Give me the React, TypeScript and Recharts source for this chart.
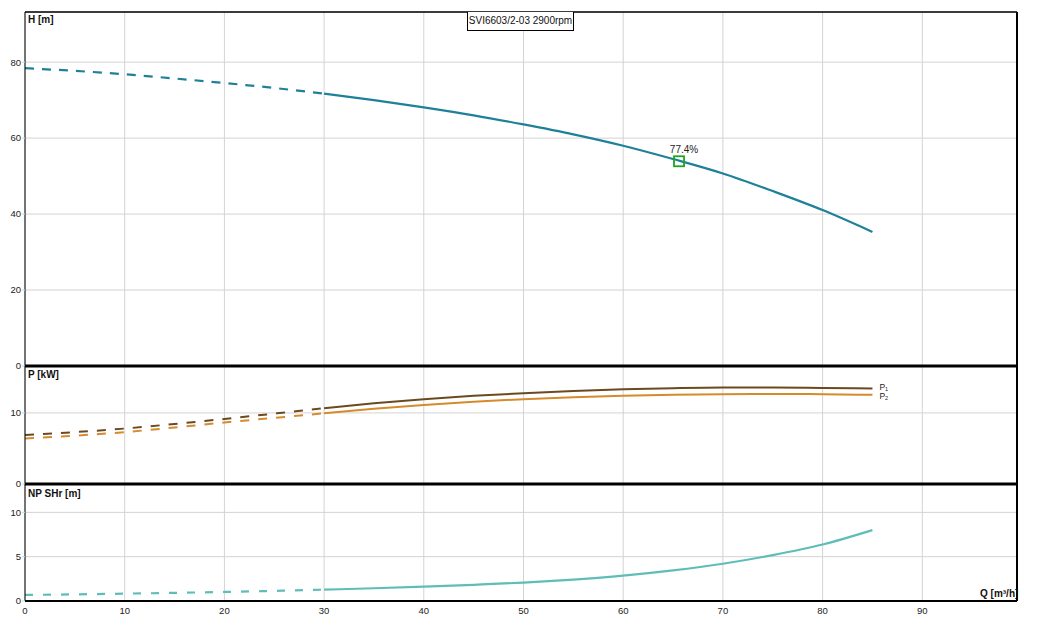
import React from 'react';
import { ComposedChart, Line, XAxis, YAxis, CartesianGrid, ReferenceDot } from 'recharts';

// Flow axis
const qTicks = [0, 10, 20, 30, 40, 50, 60, 70, 80, 90];
const qDomain = [0, 99.5];

// Head H [m]
const headDashed = [
  { q: 0, v: 78.4 }, { q: 5, v: 77.7 }, { q: 10, v: 76.8 }, { q: 15, v: 75.7 },
  { q: 20, v: 74.5 }, { q: 25, v: 73.2 }, { q: 30, v: 71.7 },
];
const headSolid = [
  { q: 30, v: 71.7 }, { q: 35, v: 70.0 }, { q: 40, v: 68.1 }, { q: 45, v: 66.0 },
  { q: 50, v: 63.6 }, { q: 55, v: 61.0 }, { q: 60, v: 58.0 }, { q: 65, v: 54.5 },
  { q: 70, v: 50.7 }, { q: 75, v: 46.05 }, { q: 80, v: 41.05 }, { q: 85, v: 35.3 },
];
const hTicks = [0, 20, 40, 60, 80];
const hDomain = [0, 93.2];
const bep = { q: 65.6, h: 53.9, label: '77.4%' };

// Power P [kW]
const p1Dashed = [
  { q: 0, v: 6.9 }, { q: 5, v: 7.3 }, { q: 10, v: 7.8 }, { q: 15, v: 8.45 },
  { q: 20, v: 9.15 }, { q: 25, v: 9.9 }, { q: 30, v: 10.66 },
];
const p1Solid = [
  { q: 30, v: 10.66 }, { q: 35, v: 11.35 }, { q: 40, v: 11.93 }, { q: 45, v: 12.4 },
  { q: 50, v: 12.77 }, { q: 55, v: 13.1 }, { q: 60, v: 13.34 }, { q: 65, v: 13.48 },
  { q: 70, v: 13.57 }, { q: 75, v: 13.58 }, { q: 80, v: 13.52 }, { q: 85, v: 13.43 },
];
const p2Dashed = [
  { q: 0, v: 6.4 }, { q: 5, v: 6.8 }, { q: 10, v: 7.3 }, { q: 15, v: 7.95 },
  { q: 20, v: 8.65 }, { q: 25, v: 9.3 }, { q: 30, v: 9.95 },
];
const p2Solid = [
  { q: 30, v: 9.95 }, { q: 35, v: 10.6 }, { q: 40, v: 11.13 }, { q: 45, v: 11.58 },
  { q: 50, v: 11.93 }, { q: 55, v: 12.2 }, { q: 60, v: 12.4 }, { q: 65, v: 12.54 },
  { q: 70, v: 12.63 }, { q: 75, v: 12.66 }, { q: 80, v: 12.63 }, { q: 85, v: 12.54 },
];
const pTicks = [0, 10];
const pDomain = [0, 16.6];

// NPSHr [m]
const npshDashed = [
  { q: 0, v: 0.68 }, { q: 5, v: 0.75 }, { q: 10, v: 0.83 }, { q: 15, v: 0.92 },
  { q: 20, v: 1.02 }, { q: 25, v: 1.14 }, { q: 30, v: 1.28 },
];
const npshSolid = [
  { q: 30, v: 1.28 }, { q: 35, v: 1.44 }, { q: 40, v: 1.62 }, { q: 45, v: 1.83 },
  { q: 50, v: 2.08 }, { q: 55, v: 2.42 }, { q: 60, v: 2.86 }, { q: 65, v: 3.45 },
  { q: 70, v: 4.2 }, { q: 75, v: 5.18 }, { q: 80, v: 6.38 }, { q: 85, v: 8.0 },
];
const nTicks = [0, 5, 10];
const nDomain = [0, 13.2];

const W = 1039;
const H = 630;
const FONT = '"Liberation Sans", Arial, sans-serif';
const GRID = '#d3d3d3';
const TICK = { fontSize: 9.5, fill: '#222', fontFamily: FONT };

const C_H = '#1f8099';
const C_P1 = '#6b4a20';
const C_P2 = '#d68a2c';
const C_N = '#5fbdb8';

const layer: React.CSSProperties = { position: 'absolute', left: 0, top: 0 };

function endLabel(sub: string, last: number, dyText: number) {
  return (props: any) => {
    const { x, y, index } = props;
    if (index !== last) return null;
    return (
      <text x={x + 7} y={y + dyText} fontSize={8.5} fill="#222" fontFamily={FONT}>
        P<tspan fontSize={5.5} dy={1.5}>{sub}</tspan>
      </text>
    );
  };
}

function yAxis(ticks: number[], domain: number[]) {
  return (
    <YAxis
      type="number"
      domain={domain}
      ticks={ticks}
      interval={0}
      allowDataOverflow
      width={25}
      tick={TICK}
      tickSize={3}
      tickMargin={1}
      tickLine={{ stroke: GRID }}
      axisLine={{ stroke: '#000', strokeWidth: 1 }}
    />
  );
}

// right-hand frame edge (1px wide axis; margin right compensates)
function rightEdge(domain: number[]) {
  return (
    <YAxis yAxisId="edge" orientation="right" type="number" domain={domain} allowDataOverflow
      width={1} tick={false} tickLine={false} axisLine={{ stroke: '#000', strokeWidth: 2 }} />
  );
}

// top frame edge / panel separator (1px tall axis; margin top compensates)
function topEdge(width: number) {
  return (
    <XAxis xAxisId="edge" orientation="top" type="number" domain={qDomain} allowDataOverflow
      height={1} tick={false} tickLine={false} axisLine={{ stroke: '#000', strokeWidth: width }} />
  );
}

function xAxisHidden() {
  return <XAxis type="number" dataKey="q" domain={qDomain} ticks={qTicks} allowDataOverflow hide />;
}

export default function App() {
  return (
    <div style={{ position: 'absolute', left: 0, top: 0, width: W, height: H, background: '#fff', fontFamily: FONT }}>
      {/* H panel */}
      <div style={layer}>
        <ComposedChart width={W} height={H} margin={{ top: 11, right: 21, bottom: 264, left: 0 }}>
          <CartesianGrid stroke={GRID} strokeWidth={1} />
          {xAxisHidden()}
          {topEdge(1.5)}
          {yAxis(hTicks, hDomain)}
          {rightEdge(hDomain)}
          <Line data={headDashed} dataKey="v" type="monotone" stroke={C_H} strokeWidth={2.2} strokeDasharray="9 8" dot={false} isAnimationActive={false} />
          <Line data={headSolid} dataKey="v" type="monotone" stroke={C_H} strokeWidth={2.2} dot={false} isAnimationActive={false} />
          <ReferenceDot
            x={bep.q}
            y={bep.h}
            shape={(p: any) => (
              <g>
                <rect x={p.cx - 5} y={p.cy - 5} width={10} height={10} fill="none" stroke="#1ea51e" strokeWidth={1.8} />
                <text x={p.cx + 5} y={p.cy - 8.5} textAnchor="middle" fontSize={10} fill="#222" fontFamily={FONT}>{bep.label}</text>
              </g>
            )}
          />
        </ComposedChart>
      </div>
      {/* P panel */}
      <div style={layer}>
        <ComposedChart width={W} height={H} margin={{ top: 365, right: 21, bottom: 146, left: 0 }}>
          <CartesianGrid stroke={GRID} strokeWidth={1} />
          {xAxisHidden()}
          {yAxis(pTicks, pDomain)}
          {rightEdge(pDomain)}
          <Line data={p1Dashed} dataKey="v" type="monotone" stroke={C_P1} strokeWidth={2} strokeDasharray="9 9" dot={false} isAnimationActive={false} />
          <Line data={p2Dashed} dataKey="v" type="monotone" stroke={C_P2} strokeWidth={2} strokeDasharray="9 9" dot={false} isAnimationActive={false} />
          <Line data={p1Solid} dataKey="v" type="monotone" stroke={C_P1} strokeWidth={2} dot={false} isAnimationActive={false}
            label={endLabel('1', p1Solid.length - 1, 1)} />
          <Line data={p2Solid} dataKey="v" type="monotone" stroke={C_P2} strokeWidth={2} dot={false} isAnimationActive={false}
            label={endLabel('2', p2Solid.length - 1, 4)} />
          {topEdge(3)}
        </ComposedChart>
      </div>
      {/* NPSH panel */}
      <div style={layer}>
        <ComposedChart width={W} height={H} margin={{ top: 483, right: 21, bottom: 9, left: 0 }}>
          <CartesianGrid stroke={GRID} strokeWidth={1} />
          <XAxis
            type="number"
            dataKey="q"
            domain={qDomain}
            ticks={qTicks}
            interval={0}
            allowDataOverflow
            height={20}
            tick={TICK}
            tickLine={false}
            tickSize={4}
            tickMargin={2}
            axisLine={{ stroke: '#000', strokeWidth: 2 }}
          />
          {yAxis(nTicks, nDomain)}
          {rightEdge(nDomain)}
          <Line data={npshDashed} dataKey="v" type="monotone" stroke={C_N} strokeWidth={2.2} strokeDasharray="8 10" dot={false} isAnimationActive={false} />
          <Line data={npshSolid} dataKey="v" type="monotone" stroke={C_N} strokeWidth={2.2} dot={false} isAnimationActive={false} />
          {topEdge(3)}
        </ComposedChart>
      </div>

      {/* Axis captions */}
      <div style={{ position: 'absolute', left: 28, top: 14, fontSize: 10, fontWeight: 'bold', color: '#111' }}>H [m]</div>
      <div style={{ position: 'absolute', left: 28, top: 369, fontSize: 10, fontWeight: 'bold', color: '#111' }}>P [kW]</div>
      <div style={{ position: 'absolute', left: 28, top: 488, fontSize: 10, fontWeight: 'bold', color: '#111' }}>NP SHr [m]</div>
      <div style={{ position: 'absolute', left: 980, top: 588, fontSize: 10, fontWeight: 'bold', color: '#111' }}>Q [m³/h]</div>

      {/* Title box */}
      <div
        style={{
          position: 'absolute', left: 467, top: 12, width: 107, height: 19,
          border: '1px solid #000', borderTop: 'none', background: '#fff', boxSizing: 'border-box',
          fontSize: 10, lineHeight: '18px', textAlign: 'center', color: '#111', whiteSpace: 'nowrap',
        }}
      >
        SVI6603/2-03 2900rpm
      </div>
    </div>
  );
}
